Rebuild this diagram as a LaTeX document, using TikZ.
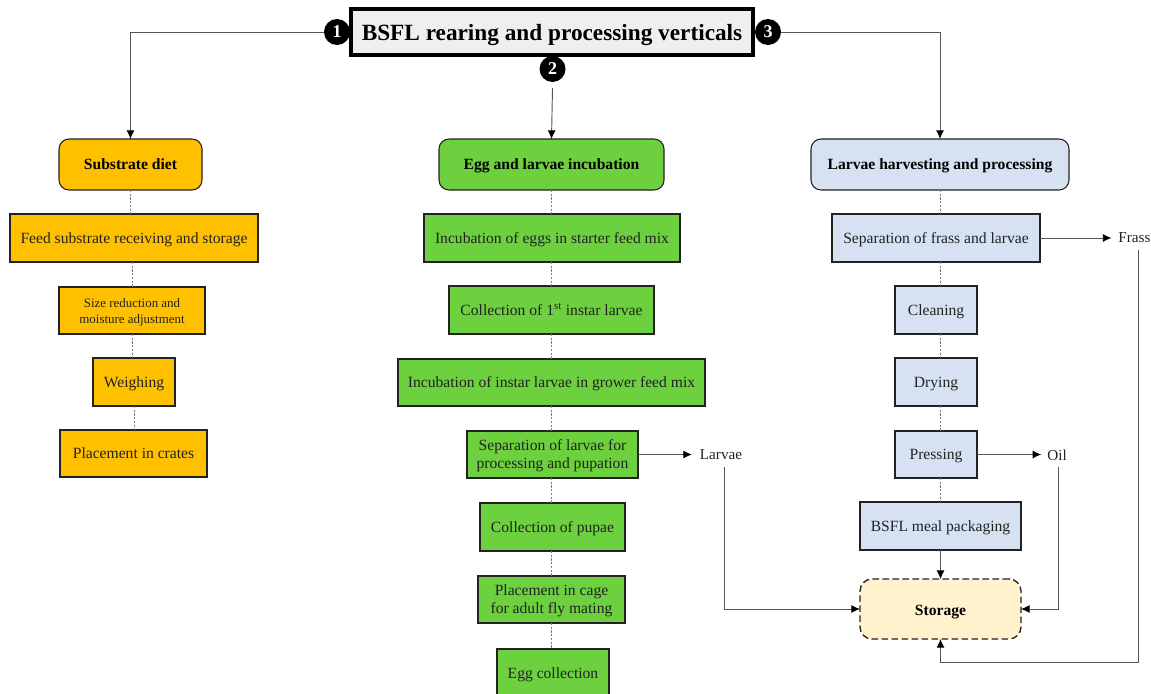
\documentclass[tikz,border=0pt]{standalone}
\usepackage{fontspec}
\setmainfont{Liberation Serif}
\usetikzlibrary{arrows.meta,calc}
\definecolor{amber}{HTML}{FFC000}
\definecolor{leaf}{HTML}{6CD03F}
\definecolor{pale}{HTML}{D6E2F2}
\definecolor{cream}{HTML}{FFF2CC}
\definecolor{titlebg}{HTML}{EFEFEF}
\definecolor{ink}{HTML}{222222}
\definecolor{lnk}{HTML}{555555}
\newcommand{\stH}{\rule{0pt}{10.5pt}}
\newcommand{\stD}{\rule[-2.5pt]{0pt}{2.5pt}}
\tikzset{
  x=0.75pt,y=-0.75pt,
  every node/.style={outer sep=0pt,inner sep=0pt,align=center},
  procbox/.style={draw=ink,line width=0.8pt,text=ink,font=\fontsize{11.7}{13.5}\selectfont},
  smallbox/.style={procbox,font=\fontsize{9.7}{12}\selectfont},
  headbox/.style={procbox,rounded corners=7.5pt,font=\fontsize{11.7}{14}\selectfont\bfseries,text=black},
  storebox/.style={draw=ink,line width=1pt,dash pattern=on 5pt off 2.5pt,rounded corners=9pt,fill=cream,text=black,font=\fontsize{11.7}{14}\selectfont\bfseries},
  titlebox/.style={draw=black,line width=3pt,fill=titlebg,font=\fontsize{17.45}{20}\selectfont\bfseries},
  badge/.style={circle,fill=black,text=white,minimum size=19.5pt,font=\fontsize{13.5}{14}\selectfont\bfseries},
  outlabel/.style={text=ink,font=\fontsize{11.4}{14}\selectfont},
  arrowline/.style={draw=lnk,line width=0.7pt,-{Latex[length=6.5pt,width=6pt,black]}},
  dotline/.style={draw=gray,line width=0.75pt,dash pattern=on 1.6pt off 1.2pt},
}
\newcommand{\bx}[7]{%
  \pgfmathsetmacro{\bxw}{(#4-#2)*0.75}%
  \pgfmathsetmacro{\bxh}{(#5-#3)*0.75}%
  \node[#6,minimum width=\bxw pt,minimum height=\bxh pt] (#1) at ({(#2+#4)/2},{(#3+#5)/2}) {\stH #7\stD};}
\begin{document}
\begin{tikzpicture}
\useasboundingbox (0,0) rectangle (1151,693);
% title
\bx{title}{351}{9}{753}{55}{titlebox}{\rule{0pt}{16pt}BSFL rearing and processing verticals}
\node[badge] (b1) at (337,32) {1};
\node[badge] (b2) at (552.5,69) {2};
\node[badge] (b3) at (768,32) {3};
% column 1
\bx{sub}{59}{139}{202}{190}{headbox,fill=amber}{Substrate diet}
\bx{feed}{10}{214}{258}{262}{procbox,fill=amber}{Feed substrate receiving and storage}
\bx{size}{59}{287}{205}{334}{smallbox,fill=amber}{Size reduction and\\moisture adjustment}
\bx{weigh}{93}{358}{175}{406}{procbox,fill=amber}{Weighing}
\bx{place}{60}{430}{207}{477}{procbox,fill=amber}{Placement in crates}
% column 2
\bx{egg}{439}{139}{664}{190}{headbox,fill=leaf}{Egg and larvae incubation}
\bx{incA}{424}{214}{680}{262}{procbox,fill=leaf}{Incubation of eggs in starter feed mix}
\bx{coll}{449}{286}{654}{334}{procbox,fill=leaf}{Collection of 1\textsuperscript{st} instar larvae}
\bx{incB}{398}{359}{705}{406}{procbox,fill=leaf}{Incubation of instar larvae in grower feed mix}
\bx{sep}{467}{431}{638}{478}{procbox,fill=leaf}{Separation of larvae for\\processing and pupation}
\bx{pupae}{480}{503}{625}{551}{procbox,fill=leaf}{Collection of pupae}
\bx{cage}{478}{576}{625}{623}{procbox,fill=leaf}{Placement in cage\\for adult fly mating}
\bx{eggc}{497}{649}{609}{697}{procbox,fill=leaf}{Egg collection}
% column 3
\bx{larv}{811}{139}{1069}{190}{headbox,fill=pale}{Larvae harvesting and processing}
\bx{sepf}{832}{214}{1040}{262}{procbox,fill=pale}{Separation of frass and larvae}
\bx{clean}{895}{286}{977}{334}{procbox,fill=pale}{Cleaning}
\bx{dry}{895}{358}{977}{406}{procbox,fill=pale}{Drying}
\bx{press}{895}{431}{977}{478}{procbox,fill=pale}{Pressing}
\bx{meal}{860}{502}{1021}{550}{procbox,fill=pale}{BSFL meal packaging}
\bx{store}{860}{579}{1021}{639}{storebox}{\rule{0pt}{12pt}Storage}
% outputs
\node[outlabel] (frass) at (1134.5,238) {Frass};
\node[outlabel] (oil) at (1057,455) {Oil};
\node[outlabel] (larvae) at (721,455) {Larvae};
\coordinate (b2end) at (552.5,88);
% top connectors
\draw[arrowline] (b1.west) -| (sub.north);
\draw[arrowline] (b2end) -- (egg.north);
\draw[arrowline] (b3.east) -| (larv.north);
% dotted chains
\draw[dotline] (sub.south) -- (sub.south |- feed.north);
\draw[dotline] ($(feed.south)+(-2,0)$) -- (size.north);
\draw[dotline] (size.south) -- (size.south |- weigh.north);
\draw[dotline] (weigh.south) -- (weigh.south |- place.north);
\draw[dotline] (egg.south) -- (egg.south |- incA.north);
\draw[dotline] (egg.south |- incA.south) -- (egg.south |- coll.north);
\draw[dotline] (egg.south |- coll.south) -- (egg.south |- incB.north);
\draw[dotline] (egg.south |- incB.south) -- (egg.south |- sep.north);
\draw[dotline] (egg.south |- sep.south) -- (egg.south |- pupae.north);
\draw[dotline] (egg.south |- pupae.south) -- (egg.south |- cage.north);
\draw[dotline] (egg.south |- cage.south) -- (egg.south |- eggc.north);
\draw[dotline] (larv.south) -- (larv.south |- sepf.north);
\draw[dotline] (larv.south |- sepf.south) -- (larv.south |- clean.north);
\draw[dotline] (larv.south |- clean.south) -- (larv.south |- dry.north);
\draw[dotline] (larv.south |- dry.south) -- (larv.south |- press.north);
\draw[dotline] (larv.south |- press.south) -- (larv.south |- meal.north);
% solid connectors
\draw[arrowline] (sepf.east) -- ($(sepf.east -| frass.west)+(-7,0)$);
\draw[arrowline] (press.east) -- ($(press.east -| oil.west)+(-6,0)$);
\draw[arrowline] (sep.east) -- ($(sep.east -| larvae.west)+(-8,0)$);
\draw[arrowline] (meal.south) -- (store.north);
\draw[arrowline] ($(larvae.south)+(3,7)$) |- (store.west);
\draw[arrowline] ($(oil.south)+(1,7)$) |- (store.east);
\draw[arrowline] ($(frass.south)+(4,7)$) |- (940.5,662) -- (store.south);
\end{tikzpicture}
\end{document}
